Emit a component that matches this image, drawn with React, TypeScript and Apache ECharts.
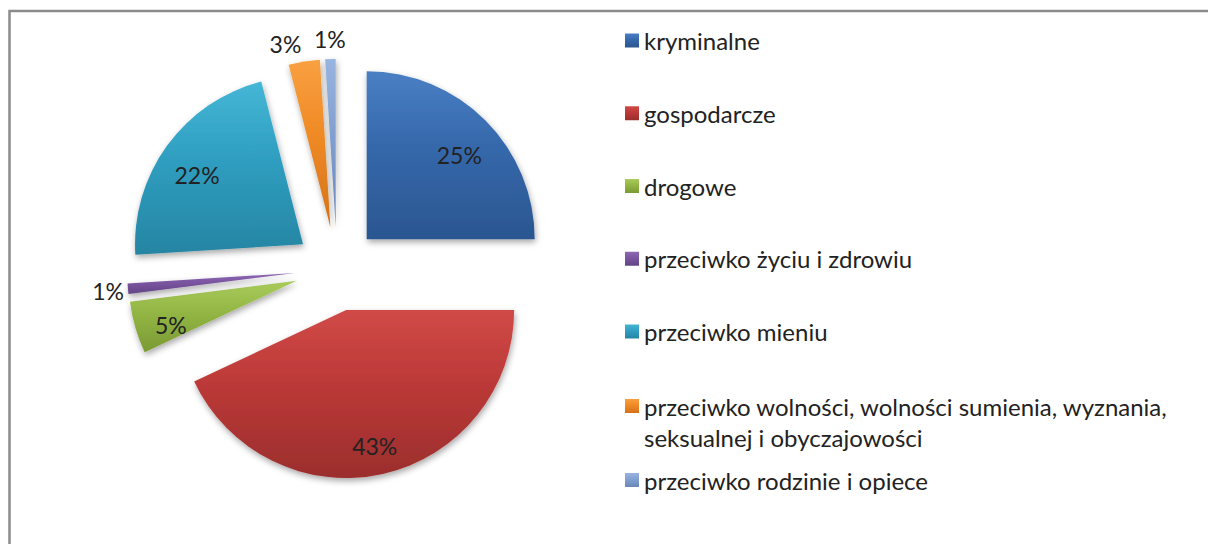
import React, { useEffect, useRef } from "react";
import * as echarts from "echarts";

const categories = [
  "kryminalne",
  "gospodarcze",
  "drogowe",
  "przeciwko życiu i zdrowiu",
  "przeciwko mieniu",
  "przeciwko wolności, wolności sumienia, wyznania, seksualnej i obyczajowości",
  "przeciwko rodzinie i opiece",
];
const shares = [25, 43, 5, 1, 22, 3, 1];
const lightColors = ["#4a7fc4", "#d04a47", "#a9cc5c", "#8e68b4", "#45b6d6", "#f9a041", "#98b4e0"];
const baseColors = ["#3568ab", "#bb3937", "#93b544", "#7a55a0", "#2f9ec0", "#ef8a25", "#819fd0"];
const darkColors = ["#2b5690", "#9b2e2d", "#7a9a34", "#634386", "#2685a3", "#d4721a", "#6a87b8"];
// where each percentage label goes: "in" inside the slice, "out" just outside it,
// "side" outside and to the left of its radius
const labelPlace = ["in", "in", "in", "out", "in", "side", "out"];

const FONT = "Lato, 'Open Sans', sans-serif";
const TEXT = "#222222";

function grad(i: number) {
  return new echarts.graphic.LinearGradient(0, 0, 0, 1, [
    { offset: 0, color: lightColors[i] },
    { offset: 0.45, color: baseColors[i] },
    { offset: 1, color: darkColors[i] },
  ]);
}

export default function App() {
  const ref = useRef<HTMLDivElement>(null);
  useEffect(() => {
    if (!ref.current) return;
    const chart = echarts.init(ref.current, undefined, { renderer: "svg" });
    const center = [337, 269];
    const common = {
      type: "pie",
      center,
      startAngle: 90,
      clockwise: true,
      selectedMode: "multiple",
      selectedOffset: 42,
      avoidLabelOverlap: false,
      labelLine: { show: false, length: 18, length2: 0 },
      emphasis: { disabled: true },
    };
    const pctFmt = (p: any) => Math.round(p.percent) + "%";
    const labelStyle = { fontSize: 23, fontFamily: FONT, color: TEXT };

    const mainData = categories.map((name, i) => ({
      name,
      value: shares[i],
      selected: true,
      itemStyle: {
        color: grad(i),
        shadowBlur: 6,
        shadowOffsetX: 1,
        shadowOffsetY: 3,
        shadowColor: "rgba(0,0,0,0.35)",
      },
      label: {
        show: labelPlace[i] === "side",
        position: "outside",
        distanceToLabelLine: 0,
        formatter: pctFmt,
        ...labelStyle,
      },
    }));
    const overlayData = (place: string) =>
      categories.map((name, i) => ({
        name,
        value: shares[i],
        selected: true,
        itemStyle: { color: "rgba(0,0,0,0)" },
        label: {
          show: labelPlace[i] === place,
          position: "inside",
          formatter: pctFmt,
          ...labelStyle,
        },
      }));

    const legendText = {
      fontSize: 24,
      fontFamily: FONT,
      color: TEXT,
      lineHeight: 31,
    };
    const legendBase = {
      orient: "vertical",
      left: 625,
      padding: 0,
      icon: "rect",
      itemWidth: 14,
      itemHeight: 14,
      itemGap: 41.75,
      selectedMode: false,
      textStyle: legendText,
      // long name wraps after "wyznania,"; a blank first line keeps the icon beside the first text line
      formatter: (name: string) =>
        name.indexOf("wyznania, ") >= 0 ? "\n" + name.replace("wyznania, ", "wyznania,\n") : name,
    };

    chart.setOption({
      animation: false,
      backgroundColor: "#ffffff",
      graphic: [
        {
          type: "rect",
          shape: { x: 9.5, y: 11, width: 1400, height: 800 },
          style: { fill: "none", stroke: "#8c8c8c", lineWidth: 2.5 },
          silent: true,
        },
      ],
      legend: [
        { ...legendBase, top: 25, data: categories.slice(0, 5) },
        { ...legendBase, top: 359.5, data: [categories[5]] },
        { ...legendBase, top: 464.5, data: [categories[6]] },
      ],
      series: [
        {
          ...common,
          name: "main",
          radius: [0, 168],
          data: mainData,
        },
        {
          ...common,
          name: "labelsInside",
          radius: [88, 168],
          silent: true,
          labelLayout: { dy: 8 },
          data: overlayData("in"),
        },
        {
          ...common,
          name: "labelsOutside",
          radius: [170, 200],
          silent: true,
          data: overlayData("out"),
        },
      ],
    } as any);
    return () => chart.dispose();
  }, []);
  return (
    <div
      ref={ref}
      style={{ position: "absolute", left: 0, top: 0, width: 1208, height: 544 }}
    />
  );
}
